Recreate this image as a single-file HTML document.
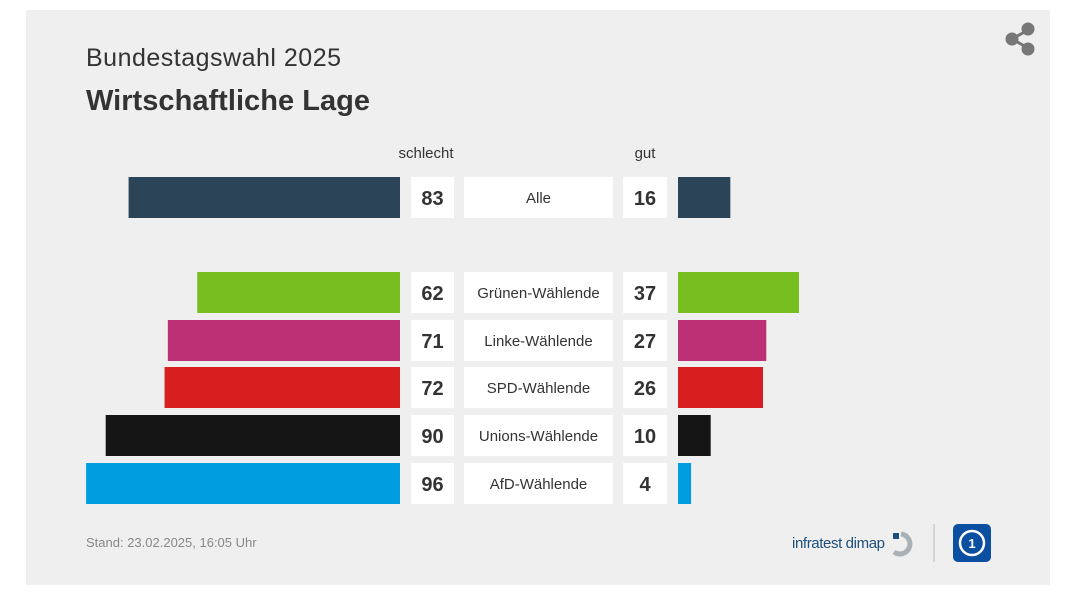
<!DOCTYPE html>
<html><head><meta charset="utf-8"><style>
body{margin:0;background:#fff;width:1086px;height:606px;overflow:hidden;font-family:"Liberation Sans",sans-serif}
</style></head><body>
<svg id="c" width="1086" height="606" xmlns="http://www.w3.org/2000/svg">
<rect x="26" y="10" width="1024" height="575" fill="#efefef"/>
<text x="86" y="66" font-size="25" fill="#333" textLength="255">Bundestagswahl 2025</text>
<text x="86" y="110" font-size="29" font-weight="bold" fill="#333" textLength="284">Wirtschaftliche Lage</text>
<text x="426" y="158" font-size="15" fill="#333" text-anchor="middle">schlecht</text>
<text x="645" y="158" font-size="15" fill="#333" text-anchor="middle">gut</text>
<g fill="#777" stroke="#777" stroke-width="3">
<line x1="1012" y1="39" x2="1028" y2="30"/><line x1="1012" y1="39" x2="1028" y2="48"/>
<circle cx="1012" cy="39" r="5"/><circle cx="1028" cy="29" r="5"/><circle cx="1028" cy="49" r="5"/>
</g>
<text x="86" y="547" font-size="13" fill="#888">Stand:  23.02.2025, 16:05 Uhr</text>
<text x="885" y="548" font-size="15" fill="#1d4f7c" text-anchor="end" textLength="93">infratest dimap</text>
<g>
<rect x="893" y="533" width="6" height="6" fill="#1d4f7c"/>
<path d="M901 534 A10 10 0 1 1 894 552" fill="none" stroke="#a9b0b6" stroke-width="5"/>
</g>
<line x1="934" y1="524" x2="934" y2="562" stroke="#ccc" stroke-width="1.5"/>
<g>
<rect x="953" y="524" width="38" height="38" rx="5" fill="#0b4fa0"/>
<circle cx="972" cy="543" r="12" fill="none" stroke="#fff" stroke-width="2.5"/>
<text x="972" y="548" font-size="13" fill="#fff" font-weight="bold" text-anchor="middle">1</text>
</g>
<g id="rows"></g>
</svg>
<script>
const categories=["Alle","Grünen-Wählende","Linke-Wählende","SPD-Wählende","Unions-Wählende","AfD-Wählende"];
const schlecht=[83,62,71,72,90,96];
const gut=[16,37,27,26,10,4];
const colors=["#2b4457","#78be20","#be3075","#d71f1f","#151515","#009de0"];
const tops=[177,272,320,367,415,463];
const ns="http://www.w3.org/2000/svg";
const g=document.getElementById("rows");
const scale=v=>v*3.27;
function el(t,a){const e=document.createElementNS(ns,t);for(const k in a)e.setAttribute(k,a[k]);g.appendChild(e);return e;}
categories.forEach((c,i)=>{
 const y=tops[i],h=41;
 const lb=el("rect",{x:400-scale(schlecht[i]),y:y,width:scale(schlecht[i]),height:h,fill:colors[i]});
 
 
 const rb=el("rect",{x:678,y:y,width:scale(gut[i]),height:h,fill:colors[i]});
 
 
 const b1=el("rect",{x:411,y:y,width:43,height:h,fill:"#fff"});
 
 
 const b2=el("rect",{x:464,y:y,width:149,height:h,fill:"#fff"});
 
 
 const b3=el("rect",{x:623,y:y,width:44,height:h,fill:"#fff"});
 
 
 const t1=el("text",{x:432.5,y:y+28,"font-size":20,"font-weight":"bold",fill:"#333","text-anchor":"middle"});t1.textContent=schlecht[i];
 
 
 const t2=el("text",{x:538.5,y:y+26,"font-size":15,fill:"#333","text-anchor":"middle"});t2.textContent=c;
 
 
 const t3=el("text",{x:645,y:y+28,"font-size":20,"font-weight":"bold",fill:"#333","text-anchor":"middle"});t3.textContent=gut[i];
 
 
});
</script>
</body></html>
